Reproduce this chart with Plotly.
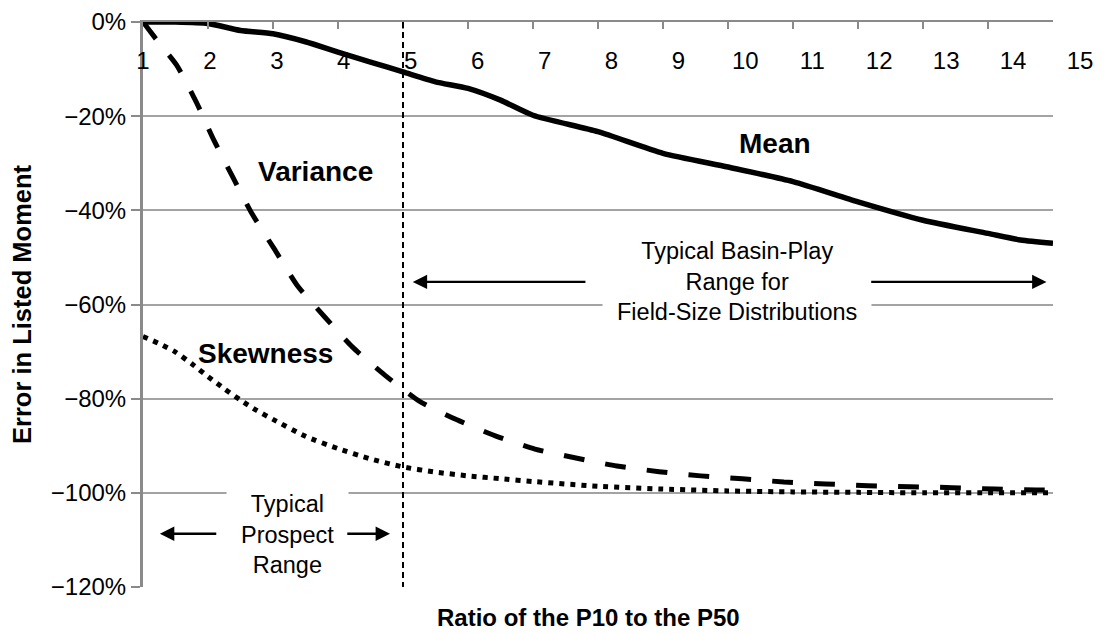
import plotly.graph_objects as go

# ---- data ----
ratio_mean = [1, 1.5, 2, 2.5, 3, 3.5, 4, 4.5, 5, 5.5, 6, 6.5, 7, 8, 9, 10, 11, 12, 13, 14, 14.5, 15]
err_mean = [0, 0, -0.3, -1.8, -2.5, -4.2, -6.4, -8.5, -10.6, -12.7, -14.1, -16.6, -19.8, -23.3,
            -27.9, -30.8, -33.9, -38.2, -42.1, -44.9, -46.3, -47.0]

ratio_var = [1, 1.25, 1.52, 1.82, 2.09, 2.38, 2.68, 3.02, 3.37, 3.8, 4.22, 4.72, 5.25, 5.83,
             6.42, 7.03, 7.66, 8.29, 8.94, 9.58, 10.22, 10.86, 11.5, 12.15, 12.8, 13.45, 14.1, 14.75, 15]
err_var = [0, -4.5, -9.2, -17.0, -25.1, -32.9, -40.8, -48.2, -55.9, -62.7, -69.0, -75.0, -80.5,
           -84.5, -87.9, -90.7, -92.6, -94.3, -95.5, -96.4, -97.0, -97.7, -98.1, -98.5, -98.7,
           -98.9, -99.2, -99.4, -99.4]

ratio_skew = [1, 1.25, 1.5, 1.75, 2, 2.25, 2.5, 2.75, 3, 3.5, 4, 4.5, 5, 5.5, 6, 6.5, 7, 8, 9,
              10, 11, 12, 13, 14, 15]
err_skew = [-66.8, -68.3, -70.1, -72.6, -75.3, -77.9, -80.3, -82.5, -84.4, -88.0, -90.6, -92.8,
            -94.5, -95.6, -96.4, -97.0, -97.6, -98.6, -99.2, -99.6, -99.8, -99.9, -100, -100, -100]

x_ticks = list(range(1, 16))
x_ticktext = [str(v) for v in x_ticks]
y_ticks = [0, -20, -40, -60, -80, -100, -120]
y_ticktext = ["0%", "\u221220%", "\u221240%", "\u221260%", "\u221280%", "\u2212100%", "\u2212120%"]

typical_limit = 5

FONT = "Arial, Liberation Sans, Helvetica, sans-serif"
GRID = "#a3a3a3"
AXIS = "#8a8a8a"

fig = go.Figure()
fig.add_trace(go.Scatter(x=ratio_mean, y=err_mean, mode="lines", name="Mean",
                         line=dict(color="black", width=5.5, shape="spline", smoothing=0.6)))
fig.add_trace(go.Scatter(x=ratio_var, y=err_var, mode="lines", name="Variance",
                         line=dict(color="black", width=5, dash="21px,21px", shape="spline",
                                   smoothing=0.6)))
fig.add_trace(go.Scatter(x=ratio_skew, y=err_skew, mode="lines", name="Skewness",
                         line=dict(color="black", width=5, dash="5px,6px", shape="spline",
                                   smoothing=0.6)))
# carrier trace for the tick-label axis (invisible)
fig.add_trace(go.Scatter(x=[x_ticks[0]], y=[None], xaxis="x2", yaxis="y2", mode="lines",
                         hoverinfo="skip", showlegend=False))

fig.add_shape(type="line", x0=typical_limit, x1=typical_limit, y0=0, y1=-120,
              xref="x", yref="y", line=dict(color="black", width=2, dash="6px,4px"))

W_PLOT = 940.0
H_PLOT = 565.0
ann = []
ann.append(dict(x=3.65, y=-31.7, text="<b>Variance</b>", font=dict(size=28, color="black")))
ann.append(dict(x=10.72, y=-25.9, text="<b>Mean</b>", font=dict(size=28, color="black")))
ann.append(dict(x=2.88, y=-70.5, text="<b>Skewness</b>", font=dict(size=28, color="black")))
ann.append(dict(x=10.14, y=-55.2, text="Typical Basin-Play<br>Range for<br>Field-Size Distributions",
                font=dict(size=23.5, color="black"), bgcolor="white", borderpad=14))
ann.append(dict(x=3.23, y=-108.9, text="Typical<br>Prospect<br>Range",
                font=dict(size=23.5, color="black"), bgcolor="white", borderpad=14))
for a in ann:
    a.update(xref="x", yref="y", showarrow=False)

arrows = [(5.15, -55.2, 7.83, -55.2), (14.9, -55.2, 12.18, -55.2),
          (1.26, -108.7, 2.15, -108.7), (4.80, -108.7, 4.12, -108.7)]
for (xt, yt, xs, ys) in arrows:
    ann.append(dict(x=xt, y=yt, ax=xs, ay=ys, xref="x", yref="y", axref="x", ayref="y",
                    text="", showarrow=True, arrowhead=2, arrowsize=1.2, arrowwidth=2.4,
                    arrowcolor="black"))

ann.append(dict(x=(588 - 143) / W_PLOT, y=-30 / H_PLOT, xref="paper", yref="paper",
                text="<b>Ratio of the P10 to the P50</b>", showarrow=False,
                font=dict(size=24, color="black"), yanchor="middle"))

# page body has an 8px default margin: figure is offset by 8px
fig.update_layout(
    template="none",
    width=1096, height=625,
    margin=dict(l=135, r=21, t=14, b=46, pad=0),
    paper_bgcolor="white", plot_bgcolor="rgba(0,0,0,0)",
    showlegend=False,
    font=dict(family=FONT, color="black"),
    annotations=ann,
    xaxis=dict(range=[1, 15], domain=[0, 910 / W_PLOT], side="top", showline=True,
               linecolor=AXIS, linewidth=2, ticks="inside", ticklen=7, tickwidth=1.5,
               tickcolor=AXIS, tickvals=x_ticks, showticklabels=False, showgrid=False,
               zeroline=False, fixedrange=True, automargin=False),
    xaxis2=dict(range=[1, 15], domain=[0, (1080 - 143) / W_PLOT], anchor="free",
                position=(587 - 44) / H_PLOT, side="bottom", showline=False, ticks="",
                showgrid=False, zeroline=False, tickvals=x_ticks, ticktext=x_ticktext,
                tickfont=dict(size=24, color="black"), automargin=False, fixedrange=True),
    yaxis2=dict(range=[-120, 0], domain=[0, 1], anchor="x2", visible=False,
                showgrid=False, zeroline=False, fixedrange=True),
    yaxis=dict(range=[-120, 0], tickvals=y_ticks, ticktext=y_ticktext,
               tickfont=dict(size=24, color="black"), showline=True, linecolor=AXIS,
               linewidth=3, ticks="outside", ticklen=9, tickwidth=1.5, tickcolor=AXIS,
               showgrid=True, gridcolor=GRID, gridwidth=1.8, zeroline=False,
               automargin=False, fixedrange=True,
               title=dict(text="<b>Error in Listed Moment</b>", font=dict(size=25.5, color="black"),
                          standoff=14)),
)

fig.write_html("out.html")
